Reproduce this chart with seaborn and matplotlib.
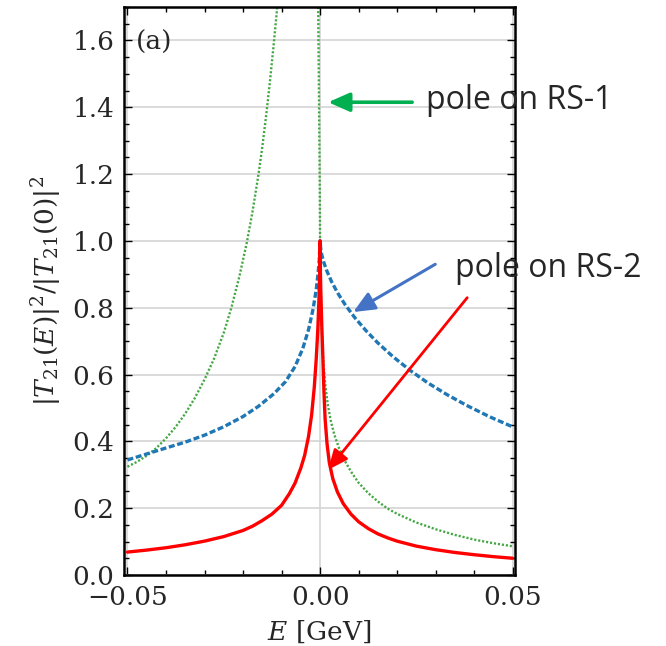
import matplotlib
matplotlib.use("Agg")
import matplotlib.pyplot as plt
from matplotlib.ticker import MultipleLocator
import pandas as pd
import seaborn as sns

# |T21(E)|^2 / |T21(0)|^2 for three parameter sets
red_E = [-0.05, -0.045, -0.04, -0.035, -0.03, -0.025, -0.02, -0.0175, -0.015, -0.0125,
         -0.01, -0.008, -0.0065, -0.005, -0.004, -0.003, -0.0022, -0.0015, -0.001,
         -0.0006, -0.0003, -0.0001, -0.00003, 0.0, 0.00003, 0.0001, 0.0002, 0.0004,
         0.0007, 0.001, 0.0013, 0.0018, 0.0024, 0.0033, 0.0045, 0.006, 0.008, 0.01,
         0.0125, 0.015, 0.0175, 0.02, 0.025, 0.03, 0.035, 0.04, 0.045, 0.05]
red_T = [0.0686, 0.0746, 0.0816, 0.0905, 0.1014, 0.115, 0.1333, 0.1463, 0.1631, 0.1823,
         0.2085, 0.243, 0.275, 0.3202, 0.3584, 0.4145, 0.4785, 0.5627, 0.6467,
         0.7318, 0.8231, 0.9019, 0.9474, 1.0, 0.947, 0.8985, 0.8452, 0.7614,
         0.658, 0.5504, 0.4682, 0.3936, 0.3361, 0.2885, 0.2485, 0.2139, 0.1824, 0.1594,
         0.139, 0.1231, 0.1113, 0.1013, 0.0864, 0.0758, 0.0674, 0.0607, 0.0549, 0.0501]

blue_E = [-0.05, -0.045, -0.04, -0.035, -0.03, -0.025, -0.02, -0.016, -0.012, -0.009,
          -0.0065, -0.0045, -0.003, -0.0018, -0.001, -0.0005, -0.0002, 0.0, 0.0002,
          0.0005, 0.001, 0.0018, 0.003, 0.0045, 0.0065, 0.009, 0.012, 0.015, 0.019,
          0.0235, 0.028, 0.033, 0.038, 0.044, 0.05]
blue_T = [0.3443, 0.3623, 0.3802, 0.3977, 0.4185, 0.4437, 0.4743, 0.5049, 0.5423, 0.5783,
          0.6238, 0.6776, 0.734, 0.797, 0.854, 0.905, 0.9457, 1.0, 0.9727,
          0.9553, 0.9344, 0.9088, 0.8777, 0.8454, 0.8091, 0.7704, 0.7303, 0.6945, 0.6527,
          0.6113, 0.5748, 0.5395, 0.5079, 0.4736, 0.4434]

green_E = [-0.05, -0.0475, -0.045, -0.0425, -0.04, -0.0375, -0.035, -0.0325, -0.03,
           -0.0275, -0.025, -0.0231, -0.021, -0.019, -0.0175, -0.016, -0.015, -0.0139,
           -0.013, -0.0121, -0.0112, -0.0105, -0.0008, -0.0005, -0.0003, -0.00015,
           -0.00005, 0.0, 0.0001, 0.0002, 0.0004, 0.0007, 0.001, 0.0014, 0.002, 0.0028,
           0.0037, 0.005, 0.0065, 0.008, 0.01, 0.0125, 0.015, 0.0175, 0.02, 0.025, 0.03,
           0.035, 0.04, 0.045, 0.05]
green_T = [0.324, 0.339, 0.357, 0.380, 0.409, 0.443, 0.483, 0.530, 0.585,
           0.648, 0.725, 0.797, 0.891, 0.996, 1.090, 1.198, 1.281, 1.385,
           1.479, 1.581, 1.690, 1.85, 1.85, 1.72, 1.45, 1.25,
           1.1, 1.0, 0.9, 0.84, 0.75, 0.67, 0.615, 0.565, 0.51, 0.46,
           0.42, 0.377, 0.34, 0.31, 0.276, 0.245, 0.22, 0.199, 0.183, 0.157, 0.137,
           0.12, 0.106, 0.095, 0.086]

y_ticks = [0.0, 0.2, 0.4, 0.6, 0.8, 1.0, 1.2, 1.4, 1.6]
x_ticks = [-0.05, 0.0, 0.05]

sns.set_theme(style="ticks")
plt.rcParams["font.family"] = ["DejaVu Serif"]
plt.rcParams["mathtext.fontset"] = "dejavuserif"

fig = plt.figure(figsize=(6.66, 6.46), dpi=100)
ax = fig.add_axes([124 / 666, 1 - 575 / 646, 391 / 666, 568 / 646])

ax.grid(True, color="#d4d4d4", lw=1.2, zorder=0)
ax.set_axisbelow(True)

df_g = pd.DataFrame({"E": green_E, "T": green_T})
df_b = pd.DataFrame({"E": blue_E, "T": blue_T})
df_r = pd.DataFrame({"E": red_E, "T": red_T})

sns.lineplot(data=df_g, x="E", y="T", ax=ax, sort=False, estimator=None,
             color="#45a845", lw=1.7, linestyle=(0, (0.9, 0.8)))
sns.lineplot(data=df_b, x="E", y="T", ax=ax, sort=False, estimator=None,
             color="#1f77b4", lw=2.4, linestyle=(0, (1.8, 0.8)))
sns.lineplot(data=df_r, x="E", y="T", ax=ax, sort=False, estimator=None,
             color="red", lw=2.4, linestyle="-")

ax.set_xlim(-0.0509, 0.0506)
ax.set_ylim(0, 1.7)
ax.set_xticks(x_ticks)
ax.set_xticklabels(["\u22120.05", "0.00", "0.05"])
ax.set_yticks(y_ticks)
ax.set_yticklabels([f"{t:.1f}" for t in y_ticks])
ax.xaxis.set_minor_locator(MultipleLocator(0.01))
ax.yaxis.set_minor_locator(MultipleLocator(0.05))
ax.tick_params(which="both", direction="in", top=True, right=True,
               labelsize=19, color="black", width=1.0)
ax.tick_params(which="major", length=6, pad=7)
ax.tick_params(which="minor", length=3.5)
for s in ax.spines.values():
    s.set_color("black")
    s.set_linewidth(1.8)

ax.set_xlabel(r"$E$ [GeV]", fontsize=19, labelpad=6.5)
ax.set_ylabel(r"$|T_{21}(E)|^2/|T_{21}(0)|^2$", fontsize=19, labelpad=6)
ax.text(0.03, 0.938, "(a)", transform=ax.transAxes, fontsize=19,
        ha="left", va="center")

# pole annotations
arrow = "-|>,head_length=0.5,head_width=0.22"
ax.annotate("", xy=(0.0021, 1.415), xytext=(0.0239, 1.415),
            arrowprops=dict(arrowstyle=arrow, color="#00b050", lw=2.6,
                            mutation_scale=26, shrinkA=0, shrinkB=0),
            annotation_clip=False)
ax.annotate("", xy=(0.0086, 0.787), xytext=(0.0299, 0.93),
            arrowprops=dict(arrowstyle=arrow, color="#4472c4", lw=2.2,
                            mutation_scale=26, shrinkA=0, shrinkB=0),
            annotation_clip=False)
ax.annotate("", xy=(0.0021, 0.315), xytext=(0.0382, 0.83),
            arrowprops=dict(arrowstyle=arrow, color="#ff0000", lw=2.0,
                            mutation_scale=24, shrinkA=0, shrinkB=0),
            annotation_clip=False)

fig.text(426 / 666, 1 - 109 / 646, "pole on RS-1", fontsize=23,
         family=["Open Sans", "DejaVu Sans"], ha="left", va="baseline")
fig.text(455 / 666, 1 - 277 / 646, "pole on RS-2", fontsize=23,
         family=["Open Sans", "DejaVu Sans"], ha="left", va="baseline")

fig.savefig("out.png", dpi=100)
